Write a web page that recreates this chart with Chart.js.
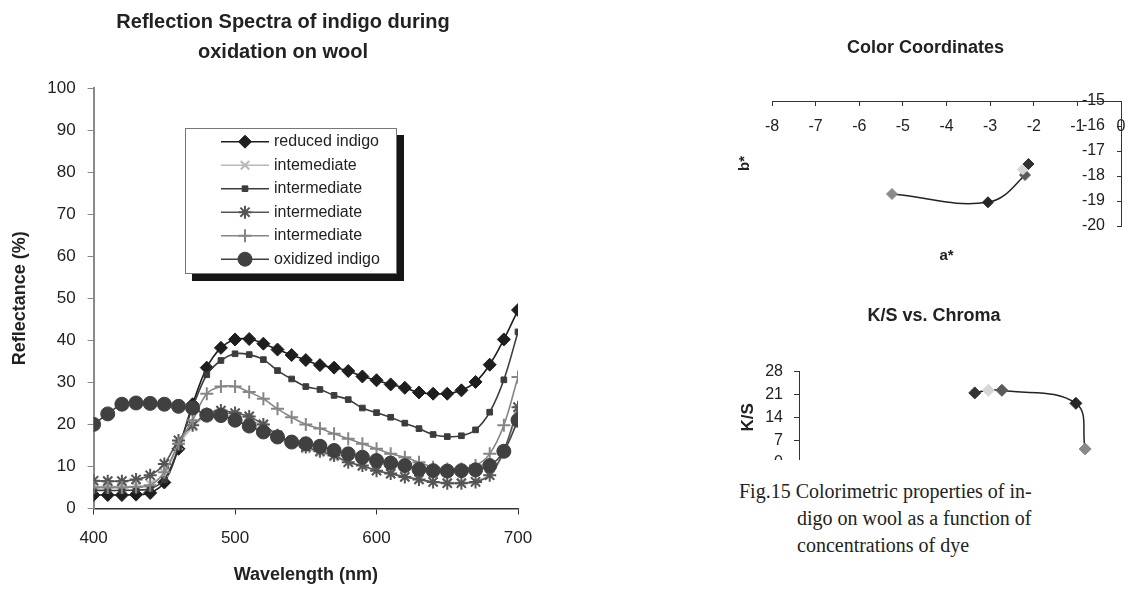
<!DOCTYPE html>
<html><head><meta charset="utf-8">
<script src="https://cdn.jsdelivr.net/npm/chart.js@4.4.1/dist/chart.umd.min.js"></script>
<style>
html,body{margin:0;padding:0;background:#fff;}
body{width:1139px;height:591px;position:relative;overflow:hidden;font-family:"Liberation Sans",Arial,sans-serif;}
#main{position:absolute;left:0;top:0;width:560px;height:591px;}
#cc{position:absolute;left:730px;top:30px;width:409px;height:250px;}
#ksWrap{position:absolute;left:730px;top:290px;width:409px;height:170px;overflow:hidden;}
#ks{position:absolute;left:0;top:0;width:409px;height:210px;}
#cap{position:absolute;left:739px;top:478px;font-family:"Liberation Serif","Times New Roman",serif;font-size:20px;line-height:27px;color:#222;white-space:nowrap;}
#cap .ind{padding-left:58px;}
</style></head><body>
<div id="main"><canvas id="c1"></canvas></div>
<div id="cc"><canvas id="c2"></canvas></div>
<div id="ksWrap"><div id="ks"><canvas id="c3"></canvas></div></div>
<div id="cap"><div>Fig.15 Colorimetric properties of in-</div><div class="ind">digo on wool as a function of</div><div class="ind">concentrations of dye</div></div>
<script>
// ---------- data: reflection spectra ----------
const wavelengths = [400,410,420,430,440,450,460,470,480,490,500,510,520,530,540,550,560,570,580,590,600,610,620,630,640,650,660,670,680,690,700];
const seriesNames = ["reduced indigo","intemediate","intermediate","intermediate","intermediate","oxidized indigo"];
const reducedIndigo = [3.2,3.2,3.2,3.3,3.7,6.2,14.2,24.8,33.5,38.2,40.2,40.3,39.2,37.8,36.5,35.3,34.1,33.5,32.7,31.4,30.5,29.5,28.7,27.6,27.3,27.3,28.1,30.1,34.2,40.2,47.2];
const intermediateX = [5.2,5.2,5.2,5.3,5.8,8.5,15.0,19.4,22.0,22.8,22.3,21.3,19.5,17.0,15.4,14.2,13.3,12.3,11.0,10.0,9.0,8.2,7.5,6.9,6.4,6.2,6.2,6.5,8.0,13.3,23.5];
const intermediateSq = [4.3,4.3,4.3,4.4,4.7,6.8,14.5,24.0,31.8,35.2,36.8,36.6,35.4,32.8,30.8,29.0,28.3,26.9,25.9,23.9,22.8,21.7,20.3,19.0,17.6,17.1,17.3,18.7,22.9,30.6,42.0];
const intermediateStar = [6.6,6.5,6.5,6.9,7.9,10.6,16.2,19.8,22.5,23.3,22.7,21.9,20.0,17.4,15.8,14.6,13.6,12.6,11.0,10.2,9.0,8.3,7.5,6.9,6.3,6.0,6.0,6.3,7.9,13.8,24.1];
const intermediatePlus = [5.0,5.0,5.0,5.1,5.5,8.6,15.4,21.0,27.3,29.0,29.0,27.7,26.1,23.7,21.7,20.0,19.0,17.8,16.6,15.4,14.2,13.0,12.2,11.0,9.8,9.4,9.4,10.2,13.0,19.8,31.3];
const oxidizedIndigo = [20.0,22.5,24.8,25.1,25.0,24.8,24.3,23.9,22.2,22.1,21.0,19.6,18.2,17.0,15.8,15.4,14.8,13.8,13.0,12.2,11.4,10.8,10.2,9.3,9.0,8.9,9.0,9.2,10.2,13.6,21.0];
const xTicks1 = [400,500,600,700];
const yTicks1 = [0,10,20,30,40,50,60,70,80,90,100];

// ---------- data: color coordinates ----------
const aStar = [-5.25,-3.05,-2.20,-2.25,-2.12];
const bStar = [-18.72,-19.05,-17.96,-17.73,-17.52];
const pointColors = ["#8a8a8a","#262626","#5a5a5a","#d6d6d6","#333333"];
const aTicks = [-8,-7,-6,-5,-4,-3,-2,-1,0];
const bTicks = [-20,-19,-18,-17,-16,-15];

// ---------- data: K/S vs chroma ----------
const chroma = [17.65,17.87,18.09,19.29,19.44];
const ksValues = [21.5,22.3,22.3,18.3,4.3];
const ksColors = ["#333333","#d6d6d6","#5a5a5a","#262626","#8a8a8a"];
const ksTicks = [0,7,14,21,28];

const FAM = '"Liberation Sans", Arial, sans-serif';
const INK = '#222';

const styles = [
  {color:'#1e1e1e', fill:'#1e1e1e', ps:'rectRot', r:6.5, bw:1, lw:1.6},
  {color:'#b8b8b8', fill:'#b8b8b8', ps:'crossRot', r:6, bw:2, lw:1.6},
  {color:'#3c3c3c', fill:'#3c3c3c', ps:'rect', r:4, bw:1, lw:1.6},
  {color:'#555555', fill:'#555555', ps:'star', r:6.5, bw:2, lw:1.6},
  {color:'#858585', fill:'#858585', ps:'cross', r:6.5, bw:2, lw:1.6},
  {color:'#404040', fill:'#404040', ps:'circle', r:7, bw:1, lw:1.6}
];
const allSeries = [reducedIndigo, intermediateX, intermediateSq, intermediateStar, intermediatePlus, oxidizedIndigo];

const datasets1 = allSeries.map((vals, i) => ({
  label: seriesNames[i],
  data: wavelengths.map((w, j) => ({x: w, y: vals[j]})),
  borderColor: styles[i].color,
  backgroundColor: styles[i].fill,
  borderWidth: styles[i].lw,
  pointStyle: styles[i].ps,
  pointRadius: styles[i].r,
  pointBorderWidth: styles[i].bw,
  pointBackgroundColor: styles[i].fill,
  pointBorderColor: styles[i].color,
  tension: 0.35,
  order: 5 - i,
  fill: false
}));

function drawMarker(ctx, ps, r, x, y, bw) {
  if (Chart.helpers && Chart.helpers.drawPoint) {
    Chart.helpers.drawPoint(ctx, {pointStyle: ps, radius: r, borderWidth: bw, rotation: 0}, x, y);
  } else {
    ctx.beginPath(); ctx.arc(x, y, r, 0, Math.PI * 2); ctx.fill(); ctx.stroke();
  }
}

const boxLegend = {
  id: 'boxLegend',
  afterDatasetsDraw(chart) {
    const ctx = chart.ctx;
    const x0 = 185, y0 = 128, w = 212, h = 146, sh = 7;
    ctx.save();
    ctx.fillStyle = '#151515';
    ctx.fillRect(x0 + sh, y0 + sh, w, h);
    ctx.fillStyle = '#fff';
    ctx.fillRect(x0, y0, w, h);
    ctx.strokeStyle = '#777'; ctx.lineWidth = 1;
    ctx.strokeRect(x0 + 0.5, y0 + 0.5, w - 1, h - 1);
    chart.data.datasets.forEach((ds, i) => {
      const y = 141.7 + i * 23.5;
      ctx.strokeStyle = ds.borderColor; ctx.lineWidth = ds.borderWidth;
      ctx.beginPath(); ctx.moveTo(221, y); ctx.lineTo(269, y); ctx.stroke();
      ctx.fillStyle = ds.pointBackgroundColor; ctx.strokeStyle = ds.pointBorderColor; ctx.lineWidth = ds.pointBorderWidth;
      drawMarker(ctx, ds.pointStyle, ds.pointRadius, 245, y, ds.pointBorderWidth);
      ctx.fillStyle = INK; ctx.font = '16px ' + FAM; ctx.textBaseline = 'middle'; ctx.textAlign = 'left';
      ctx.fillText(ds.label, 274, y);
    });
    ctx.restore();
  }
};

Chart.defaults.font.family = FAM;
Chart.defaults.color = INK;

new Chart(document.getElementById('c1'), {
  type: 'line',
  data: {datasets: datasets1},
  options: {
    responsive: true, maintainAspectRatio: false, animation: false,
    layout: {padding: {left: 48, right: 42, top: 0, bottom: 0}},
    plugins: {
      legend: {display: false}, tooltip: {enabled: false},
      title: {display: true, text: ['Reflection Spectra of indigo during', 'oxidation on wool'], color: INK,
              font: {size: 20, weight: 'bold', lineHeight: 1.5}, padding: {top: 7, bottom: 21}}
    },
    scales: {
      x: {type: 'linear', min: 400, max: 700,
          afterBuildTicks(s) { s.ticks = xTicks1.map(v => ({value: v})); },
          ticks: {color: INK, font: {size: 17}, padding: 14, maxRotation: 0},
          grid: {drawOnChartArea: false, drawTicks: true, tickLength: 6, tickColor: '#333'},
          border: {color: '#333', width: 1.5},
          title: {display: true, text: 'Wavelength (nm)', color: INK, font: {size: 18, weight: 'bold'}, padding: {top: 0, bottom: 5}},
          afterFit(s) { s.height = 82.5; }},
      y: {type: 'linear', min: 0, max: 100,
          afterBuildTicks(s) { s.ticks = yTicks1.map(v => ({value: v})); },
          ticks: {color: INK, font: {size: 17}, padding: 12},
          grid: {drawOnChartArea: false, drawTicks: true, tickLength: 6, tickColor: '#888'},
          border: {color: '#8a8a8a', width: 2},
          title: {display: true, text: 'Reflectance (%)', color: INK, font: {size: 18, weight: 'bold'}, padding: {top: -38.8, bottom: 0}},
          afterFit(s) { s.width = 45.6; }}
    }
  },
  plugins: [boxLegend]
});

// ---------- Color Coordinates ----------
new Chart(document.getElementById('c2'), {
  type: 'line',
  data: {datasets: [{
    data: aStar.map((a, i) => ({x: a, y: bStar[i]})),
    borderColor: '#222', borderWidth: 1.5, tension: 0.4, fill: false,
    pointStyle: 'rectRot', pointRadius: 5.5, pointBorderWidth: 1,
    pointBackgroundColor: pointColors, pointBorderColor: pointColors
  }]},
  options: {
    responsive: true, maintainAspectRatio: false, animation: false,
    layout: {padding: {left: 0, right: 18, top: 0, bottom: 0}},
    plugins: {
      legend: {display: false}, tooltip: {enabled: false},
      title: {display: true, text: 'Color Coordinates', color: INK, font: {size: 18, weight: 'bold', lineHeight: 1.2}, padding: {top: 7.2, bottom: 42.2}}
    },
    scales: {
      x: {type: 'linear', position: {y: -15}, min: -8, max: 0,
          afterBuildTicks(s) { s.ticks = aTicks.map(v => ({value: v})); },
          ticks: {color: INK, font: {size: 16}, padding: 12},
          grid: {drawOnChartArea: false, tickLength: 4, tickColor: '#333'},
          border: {color: '#333', width: 1},
          afterFit(s) { s.height = 0; }},
      y: {type: 'linear', position: {x: 0}, min: -20, max: -15,
          afterBuildTicks(s) { s.ticks = bTicks.map(v => ({value: v})); },
          ticks: {color: INK, font: {size: 16}, padding: 12, callback: v => v + '\u2003'},
          grid: {drawOnChartArea: false, tickLength: 4, tickColor: '#333'},
          border: {color: '#333', width: 1},
          afterFit(s) { s.width = 0; }},
      xt: {type: 'linear', position: 'bottom', display: true,
           grid: {display: false}, border: {display: false}, ticks: {display: false},
           title: {display: true, text: 'a*', color: INK, font: {size: 15, weight: 'bold'}, padding: {top: 0, bottom: 15}},
           afterFit(s) { s.height = 54; }},
      yt: {type: 'linear', position: 'left', display: true,
           grid: {display: false}, border: {display: false}, ticks: {display: false},
           title: {display: true, text: 'b*', color: INK, font: {size: 15, weight: 'bold'}, padding: {top: 6, bottom: 0}},
           afterFit(s) { s.width = 42; }}
    }
  }
});

// ---------- K/S vs Chroma ----------
new Chart(document.getElementById('c3'), {
  type: 'line',
  data: {datasets: [{
    data: chroma.map((c, i) => ({x: c, y: ksValues[i]})),
    borderColor: '#222', borderWidth: 1.5, tension: 0.4, fill: false,
    pointStyle: 'rectRot', pointRadius: 6, pointBorderWidth: 1,
    pointBackgroundColor: ksColors, pointBorderColor: ksColors
  }]},
  options: {
    responsive: true, maintainAspectRatio: false, animation: false,
    layout: {padding: {left: 0, right: 1, top: 0, bottom: 0}},
    plugins: {
      legend: {display: false}, tooltip: {enabled: false},
      title: {display: true, text: 'K/S vs. Chroma', color: INK, font: {size: 18, weight: 'bold', lineHeight: 1.2}, padding: {top: 15.2, bottom: 44.9}}
    },
    scales: {
      x: {type: 'linear', position: 'bottom', min: 14.8, max: 20.2,
          ticks: {display: false},
          grid: {drawOnChartArea: false, tickLength: 4, tickColor: '#333'},
          border: {color: '#333', width: 1},
          afterFit(s) { s.height = 37; }},
      y: {type: 'linear', min: 0, max: 28,
          afterBuildTicks(s) { s.ticks = ksTicks.map(v => ({value: v})); },
          ticks: {color: INK, font: {size: 16}, padding: 11},
          grid: {drawOnChartArea: false, tickLength: 5, tickColor: '#333'},
          border: {color: '#333', width: 1},
          title: {display: true, text: 'K/S', color: INK, font: {size: 17, weight: 'bold'}, padding: {top: 8, bottom: 0}},
          afterFit(s) { s.width = 69; }}
    }
  }
});
</script>
</body></html>
